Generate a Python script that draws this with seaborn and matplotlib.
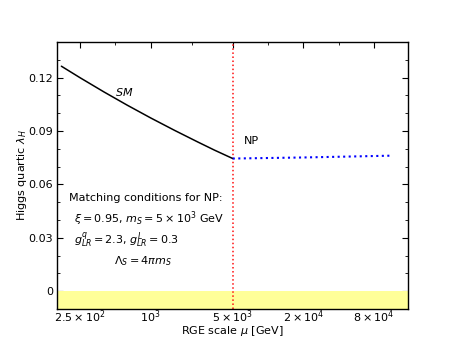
import numpy as np
import pandas as pd
import matplotlib
matplotlib.use("Agg")
import matplotlib.pyplot as plt
import matplotlib.ticker as mticker
import seaborn as sns

# SM running below the matching scale
sm_mu = [173, 250, 400, 630, 1000, 1600, 2500, 3500, 5000]
sm_lam = [0.1264, 0.1199, 0.1119, 0.1045, 0.0973, 0.0903, 0.0839, 0.0792, 0.0745]

# NP running above the matching scale
np_mu = [5000, 1e4, 2e4, 4e4, 1.1e5]
np_lam = [0.0745, 0.0748, 0.0751, 0.0755, 0.0761]

match_scale = 5000
xticks = [250, 1000, 5000, 2e4, 8e4]
xticklabels = [r"$2.5\times10^2$", r"$10^3$", r"$5\times10^3$", r"$2\times10^4$", r"$8\times10^4$"]
xminor = [500, 2236, 1e4, 4e4]
yticks = [0, 0.03, 0.06, 0.09, 0.12]
yticklabels = ["0", "0.03", "0.06", "0.09", "0.12"]

sm_df = pd.DataFrame({"mu": sm_mu, "lam": sm_lam})
np_df = pd.DataFrame({"mu": np_mu, "lam": np_lam})

sns.set_style("ticks")
plt.rcParams["font.family"] = ["DejaVu Sans"]
plt.rcParams["mathtext.fontset"] = "dejavusans"
for k in ["text.color", "axes.labelcolor", "xtick.color", "ytick.color", "axes.edgecolor"]:
    plt.rcParams[k] = "black"
fs = 8

fig = plt.figure(figsize=(4.54, 3.53), dpi=100)
ax = fig.add_axes([0.125, 0.125, 0.773, 0.756])

ax.axhspan(-0.01, 0, color="#ffff99", lw=0)
ax.axvline(match_scale, color="#ff1010", ls=":", lw=1.1)
sns.lineplot(data=sm_df, x="mu", y="lam", color="black", lw=1.1, ax=ax)
sns.lineplot(data=np_df, x="mu", y="lam", color="blue", ls=":", lw=1.5, ax=ax)

ax.set_xscale("log")
ax.set_xlim(158, 1.55e5)
ax.set_ylim(-0.01, 0.14)
ax.xaxis.set_major_locator(mticker.FixedLocator(xticks))
ax.xaxis.set_major_formatter(mticker.FixedFormatter(xticklabels))
ax.xaxis.set_minor_locator(mticker.FixedLocator(xminor))
ax.xaxis.set_minor_formatter(mticker.NullFormatter())
ax.set_yticks(yticks)
ax.set_yticklabels(yticklabels)
ax.yaxis.set_minor_locator(mticker.MultipleLocator(0.01))

ax.tick_params(which="both", direction="in", top=True, right=True, labelsize=fs)
ax.tick_params(which="major", length=4, width=0.8)
ax.tick_params(which="minor", length=2.5, width=0.6)
ax.tick_params(axis="x", which="major", pad=0)
ax.tick_params(axis="y", which="major", pad=2.5)
for s in ax.spines.values():
    s.set_linewidth(1)

ax.set_xlabel(r"RGE scale $\mu$ [GeV]", fontsize=fs, labelpad=-1)
ax.set_ylabel(r"Higgs quartic $\lambda_H$", fontsize=fs, labelpad=0)

ax.text(494, 0.1121, r"$SM$", fontsize=fs, ha="left", va="center")
ax.text(6190, 0.0843, "NP", fontsize=fs, ha="left", va="center")
ax.text(200, 0.0522, "Matching conditions for NP:", fontsize=fs, ha="left", va="center")
ax.text(221, 0.0408, r"$\xi = 0.95$, $m_S = 5\times10^3$ GeV", fontsize=fs, ha="left", va="center")
ax.text(221, 0.0286, r"$g^q_{LR} = 2.3$, $g^L_{LR} = 0.3$", fontsize=fs, ha="left", va="center")
ax.text(863, 0.0166, r"$\Lambda_S = 4\pi m_S$", fontsize=fs, ha="center", va="center")

fig.savefig("out.png", dpi=100)
